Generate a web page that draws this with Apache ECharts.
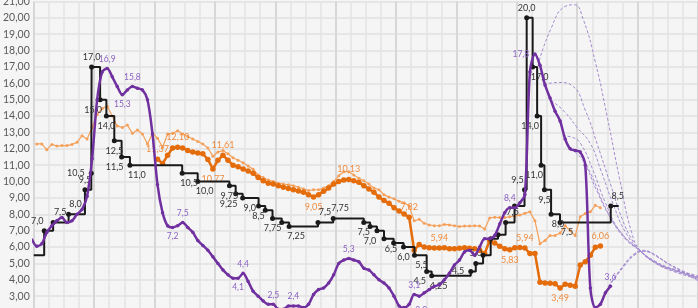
<!DOCTYPE html>
<html><head><meta charset="utf-8">
<script src="https://cdn.jsdelivr.net/npm/echarts@6/dist/echarts.min.js"></script>
<style>html,body{margin:0;padding:0;background:#f5f5f5;overflow:hidden;width:698px;height:308px}
#c{position:absolute;left:0;top:-4px;width:698px;height:322px}</style>
</head><body><div id="c"></div>
<script>
// ---------- DATA ----------
// Key rate (step line): change dates (decimal years) and levels
const rateDates = [2014.0,2014.173,2014.321,2014.577,2014.848,2014.953,2014.958,2015.099,2015.203,2015.334,2015.455,2015.593,
  2016.458,2016.715,2017.241,2017.344,2017.460,2017.723,2017.834,2017.954,2018.107,2018.229,2018.707,2018.959,
  2019.465,2019.570,2019.684,2019.800,2019.960,2020.124,2020.305,2020.507,2020.590,2021.237,2021.320,2021.441,
  2021.567,2021.689,2021.814,2021.962,2022.127,2022.163,2022.262,2022.336,2022.402,2022.457,2022.567,2022.715,
  2023.555,2023.687];
const rateValues = [5.5,7.0,7.5,8.0,9.5,10.5,17.0,15.0,14.0,12.5,11.5,11.0,
  10.5,10.0,9.75,9.25,9.0,8.5,8.25,7.75,7.5,7.25,7.5,7.75,
  7.5,7.25,7.0,6.5,6.25,6.0,5.5,4.5,4.25,4.5,5.0,5.5,
  6.5,6.75,7.5,8.5,9.5,20.0,17.0,14.0,11.0,9.5,8.0,7.5,
  8.5,8.5];
const rateLabels = ['', '7,0','7,5','8,0','9,5','10,5','17,0','15,0','14,0','12,5','11,5','11,0',
  '10,5','10,0','9,75','9,25','9,0','8,5','','7,75','','7,25','7,5','7,75',
  '7,5','','7,0','6,5','','6,0','5,5','4,5','4,25','4,5','5,0','',
  '','','7,5','','9,5','20,0','17,0','14,0','11,0','9,5','8,0','7,5',
  '8,5',''];

// Inflation (monthly, from Dec 2013)
const cpiStartYear = 2013, cpiStartMonth = 12;
const cpiValues = [6.5,
  6.05,6.2,6.9,7.3,7.6,7.8,7.5,7.6,8.0,8.3,9.1,11.4,
  15.0,16.7,16.9,16.4,15.8,15.3,15.6,15.8,15.7,15.6,15.0,12.9,
  9.8,8.1,7.3,7.2,7.3,7.5,7.2,6.9,6.4,6.1,5.8,5.4,
  5.0,4.6,4.3,4.1,4.1,4.4,3.9,3.3,3.0,2.7,2.5,2.5,
  2.2,2.2,2.4,2.4,2.4,2.3,2.5,3.1,3.4,3.5,3.8,4.3,
  5.0,5.2,5.3,5.2,5.1,4.7,4.6,4.3,4.0,3.8,3.5,3.0,
  2.4,2.3,2.5,3.1,3.0,3.2,3.4,3.6,3.7,4.0,4.4,4.9,
  5.2,5.7,5.8,5.5,6.0,6.5,6.5,6.7,7.4,8.1,8.4,8.4,
  8.7,9.2,16.7,17.8,17.1,15.9,15.1,14.3,13.7,12.6,12.0,11.9,
  11.8,11.0,3.5,2.3,2.5,3.2,3.6];
const cpiLabelIdx = {15:'16,9',18:'15,3',20:'15,8',28:'7,2',30:'7,5',41:'4,1',42:'4,4',48:'2,5',52:'2,4',63:'5,3',76:'3,1',77:'3,0',95:'8,4',100:'17,8',115:'3,6'};

// Thin orange (monthly, from Jan 2014)
const thinStartYear = 2014, thinStartMonth = 1;
const thinValues = [12.3,12.3,11.95,12.27,12.17,12.2,12.2,12.27,12.4,12.8,12.6,13.3,
  14.1,14.47,14.6,14.0,13.4,13.3,13.45,12.95,13.15,12.9,12.3,12.95,
  12.65,12.1,12.9,12.95,13.1,12.9,12.75,12.6,12.45,12.3,12.05,11.55,
  11.8,11.9,11.7,11.45,11.3,11.15,10.95,10.75,10.4,10.25,10.1,10.0,
  9.9,9.85,9.8,9.75,9.65,9.55,9.45,9.5,9.5,9.6,9.75,10.0,
  10.35,10.6,10.6,10.4,10.2,10.05,9.85,9.6,9.5,9.2,9.05,8.95,
  8.8,8.7,8.5,7.6,7.7,7.45,7.35,7.3,7.3,7.38,7.35,7.3,
  7.25,7.28,7.28,7.3,7.28,7.1,7.78,7.82,7.8,7.8,7.85,7.9,
  7.95,8.06,8.15,7.6,6.2,6.4,6.7,6.7,6.85,7.3,7.0,6.7,
  7.85,8.05,8.15,8.55,8.4];

// Thick orange (monthly, from Jan 2016)
const thickStartYear = 2016, thickStartMonth = 1;
const thickValues = [11.37,11.1,11.6,12.05,12.10,12.05,11.9,11.8,11.75,11.7,11.35,10.77,
  11.3,11.61,11.3,11.0,10.9,10.77,10.65,10.5,10.25,10.05,9.9,9.85,
  9.75,9.65,9.58,9.5,9.42,9.35,9.2,9.05,9.2,9.4,9.6,9.85,
  10.0,10.1,10.13,10.05,9.95,9.75,9.55,9.35,9.05,8.85,8.67,8.4,
  8.2,8.02,7.82,5.8,6.15,6.0,5.96,5.94,5.94,5.95,5.9,5.9,
  5.93,5.95,5.93,5.9,5.8,5.6,6.4,6.25,6.05,5.9,5.83,5.95,
  5.97,5.94,5.6,5.6,3.85,3.8,3.78,3.75,3.49,3.72,3.67,3.6,
  4.9,5.1,5.5,5.98,6.06];
const thickLabelIdx = [0,4,11,13,31,38,50,56,70,73,80,88];

// Forecast paths (dashed): [year, value]
const fan1 = [[2022.35,17.1],[2022.56,19.3],[2022.8,20.7],[2022.95,20.8],[2023.1,19.9],[2023.3,17.3],[2023.5,13.9],[2023.7,10.2],[2023.9,6.9],[2024.05,5.75],[2024.3,5.05],[2024.6,4.6],[2025.0,4.2]];
const fan2 = [[2022.45,15.95],[2022.7,16.05],[2022.92,15.85],[2023.14,14.3],[2023.33,12.3],[2023.55,9.85],[2023.75,7.66],[2023.93,6.3],[2024.05,5.75],[2024.3,5.0],[2024.6,4.55],[2025.0,4.15]];
const fan3 = [[2022.57,14.95],[2022.78,14.3],[2023.0,13.3],[2023.22,12.3],[2023.39,10.7],[2023.59,8.67],[2023.8,6.9],[2024.05,5.75],[2024.3,5.1],[2024.6,4.65],[2025.0,4.25]];
const fan4 = [[2022.76,12.8],[2022.92,12.7],[2023.06,12.3],[2023.26,10.7],[2023.47,8.67],[2023.72,6.9],[2024.05,5.75],[2024.3,5.05],[2024.6,4.6],[2025.0,4.1]];
const fan5 = [[2022.9,12.0],[2023.09,11.3],[2023.31,9.55],[2023.55,7.78],[2023.8,6.48],[2024.05,5.75],[2024.3,5.0],[2024.6,4.5],[2025.0,4.05]];
const fan6 = [[2023.03,11.8],[2023.23,10.44],[2023.47,8.37],[2023.72,6.9],[2024.05,5.75],[2024.3,5.1],[2024.6,4.6],[2025.0,4.15]];
const fan7 = [[2023.52,3.6],[2023.77,4.9],[2023.93,5.55],[2024.05,5.75],[2024.17,5.7],[2024.5,5.0],[2025.0,4.1]];
const fan8 = [[2023.52,3.6],[2023.8,5.0],[2023.97,5.6],[2024.1,5.8],[2024.25,5.6],[2024.55,4.9],[2025.0,4.0]];
const fan9 = [[2023.52,3.6],[2023.75,4.7],[2023.95,5.5],[2024.12,5.75],[2024.3,5.45],[2024.6,4.75],[2025.0,3.95]];
const fans = [fan1,fan2,fan3,fan4,fan5,fan6,fan7,fan8,fan9];

// Y axis ticks
const yMin = 2, yMax = 21, yStep = 1;
const xMin = 2014, xMax = 2025;

// ---------- BUILD ----------
const FONT = 'Lato';
function monthX(y0, m0, i){ return y0 + (m0 - 1 + i + 0.6) / 12; }
function fmt(v, d){ return v.toFixed(d).replace('.', ','); }
const placeMap = {
  t:{position:'top',offset:[0,2]}, b:{position:'bottom',offset:[0,-2]},
  bb:{position:'bottom',offset:[2,3]},
  l:{position:'left',offset:[1,0]}, r:{position:'right',offset:[-1,0]},
  tl:{position:'top',offset:[-7,2]}, tr:{position:'top',offset:[7,2]},
  bl:{position:'bottom',offset:[-7,-2]}, br:{position:'bottom',offset:[7,-2]}
};
const ratePlace = ['', 'tl','tr','tr','t','l','t','bl','b','b','bl','br',
  'br','br','b','bl','br','b','','b','','br','tr','tr',
  'b','','bl','br','','b','br','bl','br','l','t','',
  '','','tr','','tl','t','br','bl','bl','b','br','br',
  'tr',''];

const rateData = rateDates.map((d, i) => {
  const it = {value:[d, rateValues[i]]};
  const last = i === rateDates.length - 1;
  if (i === 0 || last) it.symbol = 'none';
  if (rateLabels[i]) {
    const p = placeMap[ratePlace[i]] || placeMap.b;
    it.label = {show:true, formatter: rateLabels[i], position:p.position, offset:p.offset};
  }
  return it;
});

const cpiPlace = {15:'t',18:'b',20:'t',28:'b',30:'t',41:'b',42:'t',48:'t',52:'t',63:'t',76:'t',77:'bb',95:'t',100:'l',115:'t'};
const cpiData = cpiValues.map((v, i) => {
  const it = {value:[monthX(cpiStartYear, cpiStartMonth, i), v]};
  if (cpiLabelIdx[i]) {
    const p = placeMap[cpiPlace[i]];
    it.label = {show:true, formatter: cpiLabelIdx[i], position:p.position, offset:p.offset};
  }
  return it;
});

const thinData = thinValues.map((v, i) => [monthX(thinStartYear, thinStartMonth, i), v]);
const thickPlace = {0:'t',4:'t',11:'b',13:'t',31:'b',38:'t',50:'t',56:'t',70:'b',73:'t',80:'b',88:'t'};
const thickData = thickValues.map((v, i) => {
  const it = {value:[monthX(thickStartYear, thickStartMonth, i), v]};
  if (thickLabelIdx.includes(i)) {
    const p = placeMap[thickPlace[i]];
    it.label = {show:true, formatter: fmt(v, 2), position:p.position, offset:p.offset};
  }
  return it;
});

const series = [];
series.push({type:'line', name:'thin', data:thinData, symbol:'circle', symbolSize:3,
  lineStyle:{color:'#f5a05a', width:1.2}, itemStyle:{color:'#f5a05a'}, z:2});
series.push({type:'line', name:'thick', data:thickData, symbol:'circle', symbolSize:5.5,
  lineStyle:{color:'#e46c0a', width:2.5}, itemStyle:{color:'#e46c0a'}, z:3,
  label:{color:'#f08c3f', fontSize:9, fontFamily:FONT}});
fans.forEach((f, k) => series.push({type:'line', data:f, smooth:0.5, symbol:'none', z:4,
  lineStyle:{color:'#a48bd0', width:1, type:[3,2]}}));
series.push({type:'line', name:'rate', data:rateData, step:'end', symbol:'circle', symbolSize:5,
  lineStyle:{color:'#1a1a1a', width:2}, itemStyle:{color:'#1a1a1a'}, z:5,
  label:{color:'#333', fontSize:9, fontFamily:FONT}});
series.push({type:'line', name:'cpi', data:cpiData, smooth:0.3, symbol:'circle', symbolSize:3.5,
  lineStyle:{color:'#7030a0', width:2.5}, itemStyle:{color:'#7030a0'}, z:6,
  label:{color:'#8b62c4', fontSize:8.5, fontFamily:FONT}});

const chart = echarts.init(document.getElementById('c'), null, {renderer:'canvas'});
chart.setOption({
  backgroundColor:'#f5f5f5',
  animation:false,
  grid:{left:30, right:0, top:0, bottom:0},
  xAxis:{type:'value', min:xMin, max:xMax, interval:1,
    axisLabel:{show:false}, axisLine:{show:false}, axisTick:{show:false},
    splitLine:{show:true, lineStyle:{color:'#d7d7d7', width:2}},
    minorTick:{show:false, splitNumber:4},
    minorSplitLine:{show:true, lineStyle:{color:'#e4e4e4', width:1.5}}},
  yAxis:{type:'value', min:yMin, max:yMax, interval:yStep,
    axisLine:{show:false}, axisTick:{show:false},
    axisLabel:{formatter:v => fmt(v, 2), color:'#595959', fontSize:10.5, fontFamily:FONT, margin:4},
    splitLine:{show:true, lineStyle:{color:'#e0e0e0', width:1.5}}},
  series
});
</script></body></html>
